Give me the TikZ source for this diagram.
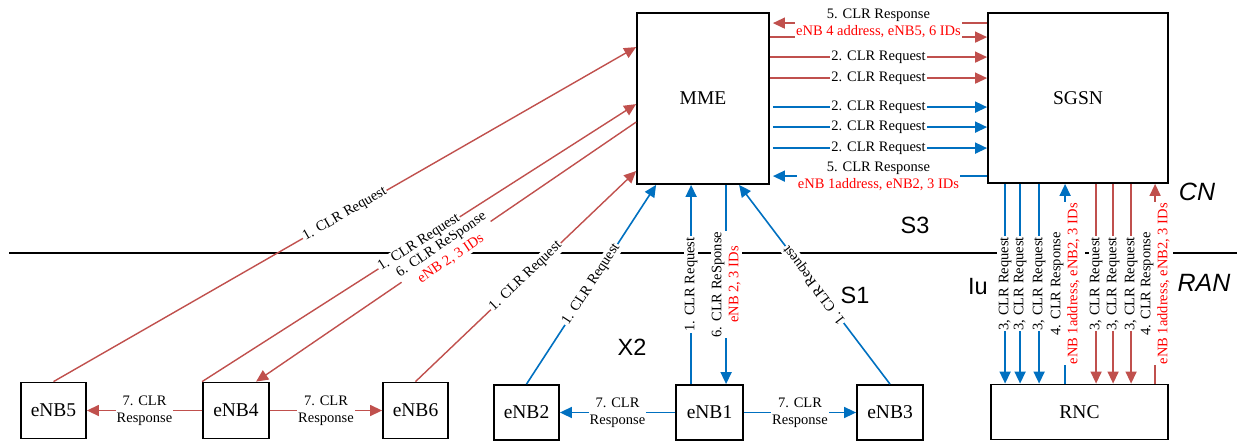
\documentclass[tikz,border=0pt]{standalone}
\usepackage{fontspec}
\setmainfont{Liberation Serif}
\newfontfamily\zonefont{Liberation Sans}
\usetikzlibrary{arrows.meta,calc}
\definecolor{linkred}{RGB}{192,80,77}
\definecolor{linkblue}{RGB}{0,112,192}
\definecolor{noteRed}{RGB}{255,0,0}

\begin{document}
\begin{tikzpicture}[x=1pt,y=-1pt,
  box/.style={draw=black, line width=1.8pt, fill=white, inner sep=0pt,
    font=\fontsize{19.5}{22}\selectfont},
  redlink/.style={draw=linkred, line width=1.4pt, -{Triangle[length=12pt,width=11pt]}},
  bluelink/.style={draw=linkblue, line width=1.6pt, -{Triangle[length=12pt,width=11pt]}},
  msg/.style={fill=white, inner sep=1pt, text=black, align=center,
    font=\fontsize{14.5}{17}\selectfont},
  zone/.style={font=\zonefont\fontsize{23.5}{26}\selectfont},
  divider/.style={draw=black, line width=1.5pt}]

\useasboundingbox (0,0) rectangle (1237,441);

% CN / RAN boundary
\draw[divider] (9,253) -- (997,253);
\draw[divider] (1085,253) -- (1091,253);
\draw[divider] (1173,253) -- (1237,253);

% network elements
\node[box, minimum width=132pt, minimum height=171pt] (MME)  at (703,98.5)  {MME};
\node[box, minimum width=180pt, minimum height=170pt] (SGSN) at (1078,98)   {SGSN};
\node[box, minimum width=177pt, minimum height=55pt]  (RNC)  at (1079.5,412) {RNC};
\node[box, minimum width=65pt, minimum height=56pt] (eNB5) at (53.5,410.5)  {eNB5};
\node[box, minimum width=66pt, minimum height=56pt] (eNB4) at (236,410.5)   {eNB4};
\node[box, minimum width=65pt, minimum height=56pt] (eNB6) at (415.5,410.5) {eNB6};
\node[box, minimum width=65pt, minimum height=55pt] (eNB2) at (526.5,412.5) {eNB2};
\node[box, minimum width=67pt, minimum height=55pt] (eNB1) at (709.5,412.5) {eNB1};
\node[box, minimum width=66pt, minimum height=55pt] (eNB3) at (890,412.5)   {eNB3};

% interface and domain names
\node[zone] (s3) at (915,225) {S3};
\node[zone] (s1) at (855,295) {S1};
\node[zone] (x2) at (632,347) {X2};
\node[zone] (iu) at (978,287) {Iu};
\node[zone, font=\zonefont\itshape\fontsize{25}{28}\selectfont] (cn)  at (1197,192) {CN};
\node[zone, font=\zonefont\itshape\fontsize{25}{28}\selectfont] (ran) at (1204,283) {RAN};

% attachment points on MME / SGSN
\foreach \n/\dy in {1/11,2/25,3/45,4/66,5/95,6/115,7/136,8/164} {
  \coordinate (me\n) at ($(MME.north east)+(0,\dy)$);
  \coordinate (sg\n) at (me\n -| SGSN.west);
}
\foreach \n/\dy in {1/35,2/92,3/110,4/159} {
  \coordinate (mw\n) at ($(MME.north west)+(0,\dy)$);
}
\foreach \n/\dx in {1/20,2/55,3/90,4/103} {
  \coordinate (ms\n) at ($(MME.south west)+(\dx,0)$);
}
\foreach \n/\dx in {1/18,2/33,3/52,4/78,5/109,6/126,7/144,8/168} {
  \coordinate (sb\n) at ($(SGSN.south west)+(\dx,0)$);
  \coordinate (rt\n) at (sb\n |- RNC.north);
}
\coordinate (e1a) at (ms2 |- eNB1.north);
\coordinate (e1b) at (ms3 |- eNB1.north);
\coordinate (e4in) at ($(eNB4.north west)+(54,0)$);

% eNB4 / eNB5 / eNB6 towards MME
\draw[redlink] (eNB5.north) -- (mw1) node[msg, midway, sloped] {1. CLR Request};
\draw[redlink] (mw3) -- (e4in) node[msg, midway, sloped]
  {6. CLR ReSponse\\\textcolor{noteRed}{eNB 2, 3 IDs}};
\draw[redlink] (eNB4.north west) -- (mw2) node[msg, midway, sloped] {1. CLR Request};
\draw[redlink] (eNB6.north) -- (mw4) node[msg, midway, sloped] {1. CLR Request};

% eNB1 / eNB2 / eNB3 towards MME
\draw[bluelink] (eNB2.north) -- (ms1) node[msg, midway, sloped] {1. CLR Request};
\draw[bluelink] (e1a) -- (ms2) node[msg, midway, rotate=90] {1. CLR Request};
\draw[bluelink] (ms3) -- (e1b) node[msg, midway, rotate=90]
  {6. CLR ReSponse\\\textcolor{noteRed}{eNB 2, 3 IDs}};
\draw[bluelink] (eNB3.north) -- (ms4) node[msg, midway, sloped, allow upside down] {1. CLR Request};

% X2 responses
\draw[redlink] (eNB4.west) -- (eNB5.east) node[msg, midway] {7. CLR\\Response};
\draw[redlink] (eNB4.east) -- (eNB6.west) node[msg, midway] {7. CLR\\Response};
\draw[bluelink] (eNB1.west) -- (eNB2.east) node[msg, midway] {7. CLR\\Response};
\draw[bluelink] (eNB1.east) -- (eNB3.west) node[msg, midway] {7. CLR\\Response};

% MME <-> SGSN (S3)
\draw[redlink] (me2) -- (sg2);
\draw[redlink, shorten >=3pt] (sg1) -- (me1) node[msg, midway]
  {5. CLR Response\\\textcolor{noteRed}{eNB 4 address, eNB5, 6 IDs}};
\draw[redlink] (me3) -- (sg3) node[msg, midway] {2. CLR Request};
\draw[redlink] (me4) -- (sg4) node[msg, midway] {2. CLR Request};
\draw[bluelink, shorten <=3pt] (me5) -- (sg5) node[msg, midway] {2. CLR Request};
\draw[bluelink, shorten <=3pt] (me6) -- (sg6) node[msg, midway] {2. CLR Request};
\draw[bluelink, shorten <=3pt] (me7) -- (sg7) node[msg, midway] {2. CLR Request};
\draw[bluelink, shorten >=3pt] (sg8) -- (me8) node[msg, midway]
  {5. CLR Response\\\textcolor{noteRed}{eNB 1address, eNB2, 3 IDs}};

% SGSN <-> RNC (Iu)
\foreach \n in {1,2,3} {
  \draw[bluelink] (sb\n) -- (rt\n) node[msg, midway, rotate=90] {3, CLR Request};
}
\draw[bluelink] (rt4) -- (sb4) node[msg, midway, rotate=90]
  {4. CLR Response\\\textcolor{noteRed}{eNB 1address, eNB2, 3 IDs}};
\foreach \n in {5,6,7} {
  \draw[redlink] (sb\n) -- (rt\n) node[msg, midway, rotate=90] {3, CLR Request};
}
\draw[redlink] (rt8) -- (sb8) node[msg, midway, rotate=90]
  {4. CLR Response\\\textcolor{noteRed}{eNB 1address, eNB2, 3 IDs}};

\end{tikzpicture}
\end{document}
